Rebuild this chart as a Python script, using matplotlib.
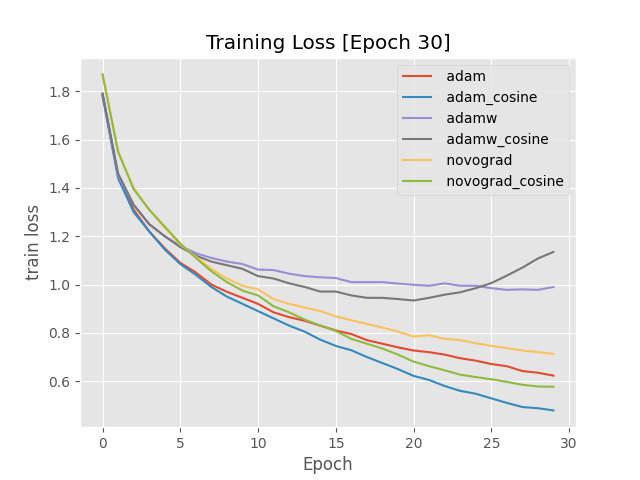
import matplotlib
matplotlib.use("Agg")
import matplotlib.pyplot as plt
import numpy as np

plt.style.use("ggplot")

epochs = np.arange(30)

adam = [1.79, 1.45, 1.31, 1.22, 1.15, 1.09, 1.05, 1.00, 0.97, 0.945,
        0.92, 0.885, 0.865, 0.85, 0.83, 0.81, 0.795, 0.77, 0.755, 0.74,
        0.727, 0.72, 0.71, 0.695, 0.685, 0.671, 0.662, 0.642, 0.635, 0.623]
adam_cosine = [1.78, 1.44, 1.30, 1.22, 1.145, 1.085, 1.04, 0.99, 0.95, 0.92,
               0.89, 0.86, 0.83, 0.805, 0.772, 0.746, 0.728, 0.70, 0.675, 0.65,
               0.622, 0.605, 0.58, 0.56, 0.548, 0.529, 0.51, 0.493, 0.488, 0.479]
adamw = [1.79, 1.45, 1.33, 1.25, 1.20, 1.16, 1.13, 1.11, 1.095, 1.085,
         1.062, 1.06, 1.045, 1.035, 1.03, 1.027, 1.01, 1.01, 1.01, 1.004,
         0.999, 0.995, 1.005, 0.995, 0.995, 0.985, 0.978, 0.98, 0.978, 0.99]
adamw_cosine = [1.79, 1.46, 1.33, 1.25, 1.20, 1.155, 1.12, 1.095, 1.08, 1.065,
                1.035, 1.025, 1.005, 0.99, 0.971, 0.971, 0.955, 0.945, 0.945, 0.94,
                0.934, 0.945, 0.958, 0.968, 0.985, 1.006, 1.037, 1.07, 1.108, 1.135]
novograd = [1.87, 1.55, 1.40, 1.31, 1.235, 1.165, 1.115, 1.065, 1.025, 0.995,
            0.98, 0.94, 0.92, 0.905, 0.89, 0.868, 0.852, 0.837, 0.822, 0.805,
            0.785, 0.79, 0.775, 0.77, 0.757, 0.746, 0.737, 0.727, 0.72, 0.713]
novograd_cosine = [1.87, 1.55, 1.395, 1.31, 1.24, 1.17, 1.11, 1.055, 1.01, 0.975,
                   0.955, 0.91, 0.885, 0.855, 0.83, 0.808, 0.775, 0.755, 0.735, 0.71,
                   0.681, 0.662, 0.645, 0.627, 0.617, 0.608, 0.597, 0.585, 0.578, 0.577]

series = [
    (" adam", adam),
    (" adam_cosine", adam_cosine),
    (" adamw", adamw),
    (" adamw_cosine", adamw_cosine),
    (" novograd", novograd),
    (" novograd_cosine", novograd_cosine),
]

fig, ax = plt.subplots(figsize=(6.4, 4.8), dpi=100)
for name, values in series:
    ax.plot(epochs, values, label=name)

ax.set_title("Training Loss [Epoch 30]")
ax.set_xlabel("Epoch")
ax.set_ylabel("train loss")
ax.legend(loc="upper right")

fig.savefig("out.png")
